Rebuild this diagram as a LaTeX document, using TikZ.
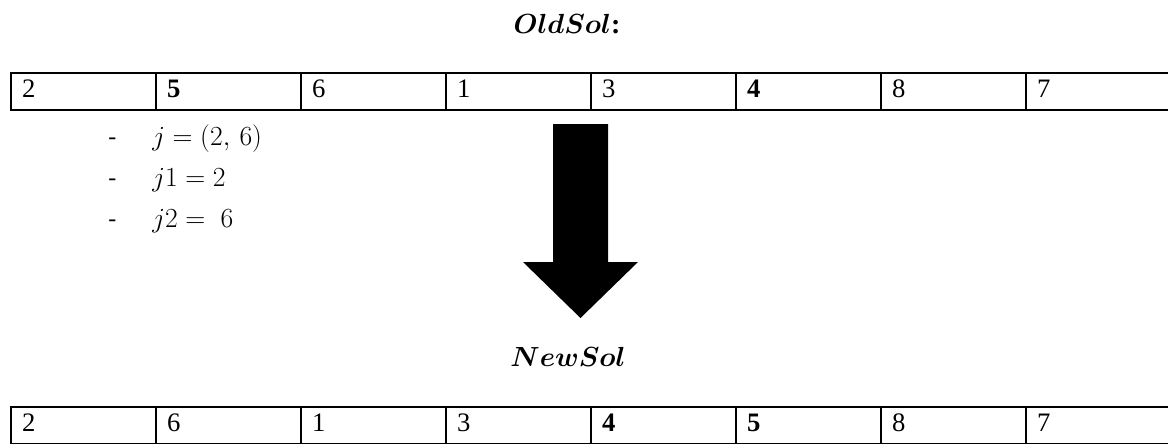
\documentclass[tikz,border=0pt]{standalone}
\usepackage{fontspec}
\setmainfont{Liberation Serif}
\usepackage{amsmath}
\usetikzlibrary{positioning}

\tikzset{
    cell/.style={rectangle, draw, line width=1.4pt, outer sep=0pt,
        inner xsep=8.25pt, inner ysep=0pt,
        minimum width=108.75pt, minimum height=27.75pt,
        text width=92.25pt, align=left,
        text height=13.2pt, text depth=4pt,
        font=\fontsize{20}{24}\selectfont},
    heading/.style={inner sep=0pt, anchor=base, font=\fontsize{21}{24}\selectfont\boldmath},
    dashmark/.style={inner sep=0pt, anchor=base west, font=\fontsize{18}{22}\selectfont},
    formula/.style={inner sep=0pt, anchor=base west, font=\fontsize{20.5}{24}\selectfont}
}

\begin{document}
\begin{tikzpicture}[x=0.75pt, y=-0.75pt]
    \useasboundingbox (0,0) rectangle (1168,443);
    \clip (0,0) rectangle (1168,443);
    % Titles
    \node [heading] (oldtitle) at (567,33) {$OldSol$\textbf{:}};
    \node [heading] (newtitle) at (568,366) {$NewSol$};
    % Old solution
    \node [cell] (o1) at (83.5,91.5) {2};
    \node [cell] (o2) at (228.5,91.5) {\textbf{5}};
    \node [cell] (o3) at (373.5,91.5) {6};
    \node [cell] (o4) at (518.5,91.5) {1};
    \node [cell] (o5) at (663.5,91.5) {3};
    \node [cell] (o6) at (808.5,91.5) {\textbf{4}};
    \node [cell] (o7) at (953.5,91.5) {8};
    \node [cell] (o8) at (1098.5,91.5) {7};
    % Cut points
    \node [dashmark] (d1) at (108,144) {-};
    \node [dashmark] (d2) at (108,185) {-};
    \node [dashmark] (d3) at (108,226) {-};
    \node [formula] (f1) at (152,145) {$j = (2,\, 6)$};
    \node [formula] (f2) at (152,186) {$j1 = 2$};
    \node [formula] (f3) at (152,227) {$j2 = \;6$};
    % Big arrow
    \fill (553,124) -- (608,124) -- (608,262) -- (638,262) -- (580.5,318)
        -- (523,262) -- (553,262) -- cycle;
    % New solution
    \node [cell] (n1) at (83.5,425.5) {2};
    \node [cell] (n2) at (228.5,425.5) {6};
    \node [cell] (n3) at (373.5,425.5) {1};
    \node [cell] (n4) at (518.5,425.5) {3};
    \node [cell] (n5) at (663.5,425.5) {\textbf{4}};
    \node [cell] (n6) at (808.5,425.5) {\textbf{5}};
    \node [cell] (n7) at (953.5,425.5) {8};
    \node [cell] (n8) at (1098.5,425.5) {7};
\end{tikzpicture}
\end{document}
